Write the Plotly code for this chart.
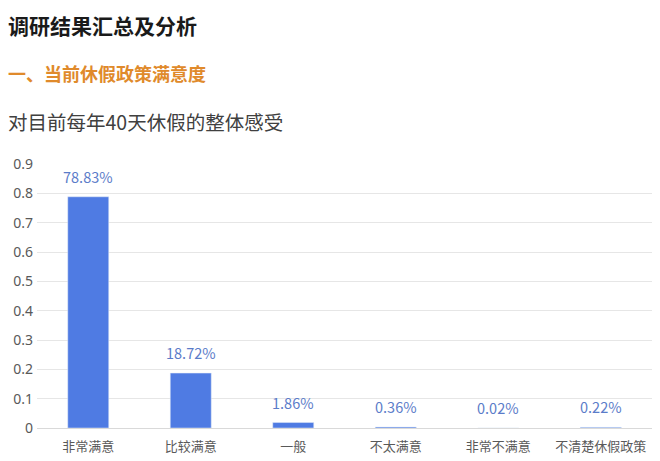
import plotly.graph_objects as go

# 数据
categories = ["非常满意", "比较满意", "一般", "不太满意", "非常不满意", "不清楚休假政策"]
values = [0.7883, 0.1872, 0.0186, 0.0036, 0.0002, 0.0022]
labels = ["78.83%", "18.72%", "1.86%", "0.36%", "0.02%", "0.22%"]

font_cn = "Noto Sans CJK SC"

# page is offset by the body margin (8px), so margins compensate for it
L, R, T, B = 29, 16, 156, 41
W, H = 660, 461

fig = go.Figure(go.Bar(
    x=categories, y=values,
    marker=dict(color="#4f7be3"),
    cliponaxis=False, width=0.4,
))

# 数值标签
for c, v, lab in zip(categories, values, labels):
    fig.add_annotation(x=c, y=v, text=lab, showarrow=False, yanchor="bottom",
                       yshift=8, font=dict(color="#5b7cc9", size=14.5, family=font_cn))

fig.update_layout(
    width=W, height=H,
    margin=dict(l=L, r=R, t=T, b=B),
    plot_bgcolor="white", paper_bgcolor="white",
    showlegend=False,
    font=dict(family=font_cn, color="#595959", size=13),
    xaxis=dict(showgrid=False, showline=True, linecolor="#d9d9d9", ticks="",
               ticklabelstandoff=6, automargin=False,
               tickfont=dict(size=13, color="#595959")),
    yaxis=dict(range=[0, 0.9], dtick=0.1, showgrid=True, gridcolor="#e6e6e6",
               zeroline=False, ticks="", ticklabelstandoff=3, automargin=False,
               tickfont=dict(size=14, color="#595959", family="Noto Sans")),
)

# 标题文字 (像素定位)
titles = [
    ("<b>调研结果汇总及分析</b>", -2, 17, 21, "#1a1a1a"),
    ("<b>一、当前休假政策满意度</b>", -2, 65, 18, "#e08a2b"),
    ("对目前每年40天休假的整体感受", -2, 113, 19.5, "#404040"),
]
pw, ph = W - L - R, H - T - B
for t, px, py, sz, col in titles:
    fig.add_annotation(text=t, xref="paper", yref="paper",
                       x=(px - L) / pw, y=(H - B - py) / ph,
                       xanchor="left", yanchor="middle", showarrow=False,
                       font=dict(size=sz, color=col, family=font_cn))

fig.write_html("out.html")
